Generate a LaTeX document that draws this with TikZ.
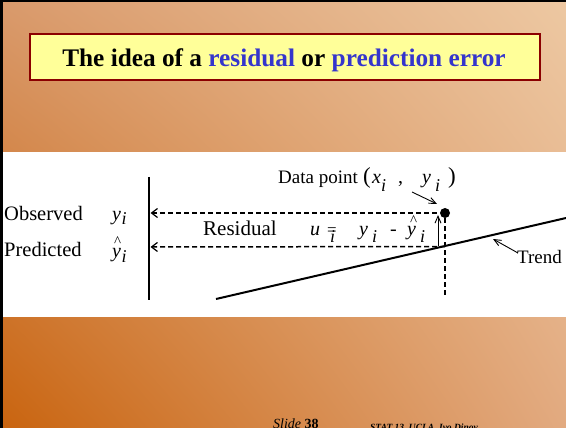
\documentclass[tikz,border=0pt]{standalone}
\usepackage{fontspec}
\setmainfont{Liberation Serif}
\usetikzlibrary{arrows.meta,shadings}
\definecolor{titleblue}{HTML}{3535CC}
\definecolor{boxred}{HTML}{8B0000}
\definecolor{boxyellow}{HTML}{FFFF99}
\definecolor{bgUL}{HTML}{D99A6C}
\definecolor{bgUR}{HTML}{EDC8A2}
\definecolor{bgLL}{HTML}{C9640F}
\definecolor{bgLR}{HTML}{E2AA80}
\newcommand\fsz[1]{\fontsize{#1}{#1}\selectfont}
\begin{document}
\begin{tikzpicture}[x=1pt,y=-1pt,
  lbl/.style={inner sep=0pt, anchor=base west},
  dasharrow/.style={dash pattern=on 5pt off 3pt, line width=1.5pt,
    {Straight Barb[length=6pt,width=9pt,line width=1.2pt]}-},
  vdash/.style={dash pattern=on 5pt off 3pt, line width=2pt},
  thinarrow/.style={line width=0.9pt, -{Straight Barb[length=7pt,width=6pt,line width=0.9pt]}},
  solid2/.style={line width=2pt}
]
\useasboundingbox (0,0) rectangle (566,428);
\clip (0,0) rectangle (566,428);
\shade[shading=bilinear interpolation, upper left=bgUL, upper right=bgUR, lower left=bgLL, lower right=bgLR] (0,0) rectangle (566,428);
\fill[black] (0,0) rectangle (566,2);
\fill[black] (0,0) rectangle (2.5,428);
\fill[white] (2.5,152) rectangle (566,317);

% title
\node[draw=boxred, fill=boxyellow, line width=2pt, minimum width=510pt, minimum height=46pt, inner sep=0pt] (titlebox) at (284.5,57) {};
\node[inner sep=0pt, anchor=base] (title) at (284,67) {\fsz{25.3}\bfseries The idea of a \textcolor{titleblue}{residual} or \textcolor{titleblue}{prediction error}};

% geometry
\coordinate (axT) at (149,177);
\coordinate (axB) at (149,300);
\coordinate (obsAx) at (150.5,213);
\coordinate (predAx) at (150.5,247);
\coordinate (foot) at (445,246.5);
\coordinate (dashEnd) at (445,297);
\coordinate (trA) at (216,299);
\coordinate (trB) at (566,218);
\coordinate (rA) at (438,246);
\coordinate (rB) at (438,215);
\coordinate (dA) at (412,192);
\coordinate (dB) at (437,204);
\coordinate (tA) at (518,253);
\coordinate (tB) at (493,239);

\draw[solid2] (axT) -- (axB);
\draw[solid2] (trA) -- (trB);
\node[circle, fill=black, inner sep=0pt, minimum size=10pt] (dot) at (445,213) {};
\draw[dasharrow] (obsAx) -- (dot.west);
\draw[dasharrow] (predAx) -- (foot);
\draw[vdash] (dot.south) -- (dashEnd);
\draw[thinarrow] (rA) -- (rB);
\draw[thinarrow] (dA) -- (dB);
\draw[thinarrow] (tA) -- (tB);

% left labels
\node[lbl] (obsT) at (4,221) {\fsz{20.5}Observed};
\node[lbl] (obsY) at (112,221) {\fsz{20}\itshape y};
\node[lbl] (obsI) at (121.5,225) {\fsz{18}\itshape i};
\node[lbl] (predT) at (4,256) {\fsz{20.5}Predicted};
\node[lbl] (predHat) at (114,246) {\fsz{15}\textasciicircum};
\node[lbl] (predY) at (112,257) {\fsz{20}\itshape y};
\node[lbl] (predI) at (121.5,262) {\fsz{18}\itshape i};

% residual equation
\node[lbl] (resT) at (203,236) {\fsz{21}Residual};
\node[lbl] (uT) at (310,236) {\fsz{20}\itshape u};
\node[lbl] (eqT) at (327,236) {\fsz{17}=};
\node[lbl] (uI) at (330,243) {\fsz{18}\itshape i};
\node[lbl] (ry) at (359,236) {\fsz{20}\itshape y};
\node[lbl] (ryI) at (372,243) {\fsz{18}\itshape i};
\node[lbl] (minus) at (390,236) {\fsz{20}-};
\node[lbl] (rhat) at (410,225.5) {\fsz{15}\textasciicircum};
\node[lbl] (rhy) at (407,236) {\fsz{20}\itshape y};
\node[lbl] (rhyI) at (420,243) {\fsz{18}\itshape i};

% data point label
\node[lbl] (dpT) at (278,183) {\fsz{19}Data point};
\node[lbl] (lpar) at (363,184) {\fsz{23}(};
\node[lbl] (dx) at (372,183) {\fsz{20}\itshape x};
\node[lbl] (dxI) at (381,192) {\fsz{18}\itshape i};
\node[lbl] (comma) at (398,183) {\fsz{20},};
\node[lbl] (dy) at (422,183) {\fsz{20}\itshape y};
\node[lbl] (dyI) at (435,192) {\fsz{18}\itshape i};
\node[lbl] (rpar) at (448,184) {\fsz{23})};

% trend label
\node[lbl] (trendT) at (517,263) {\fsz{19}Trend};

% footer
\node[lbl] (slideT) at (273,428) {\fsz{14}\itshape Slide \upshape\bfseries 38};
\node[lbl] (statT) at (370,430) {\fsz{9.5}\bfseries\itshape STAT 13, UCLA, Ivo Dinov};
\end{tikzpicture}
\end{document}
